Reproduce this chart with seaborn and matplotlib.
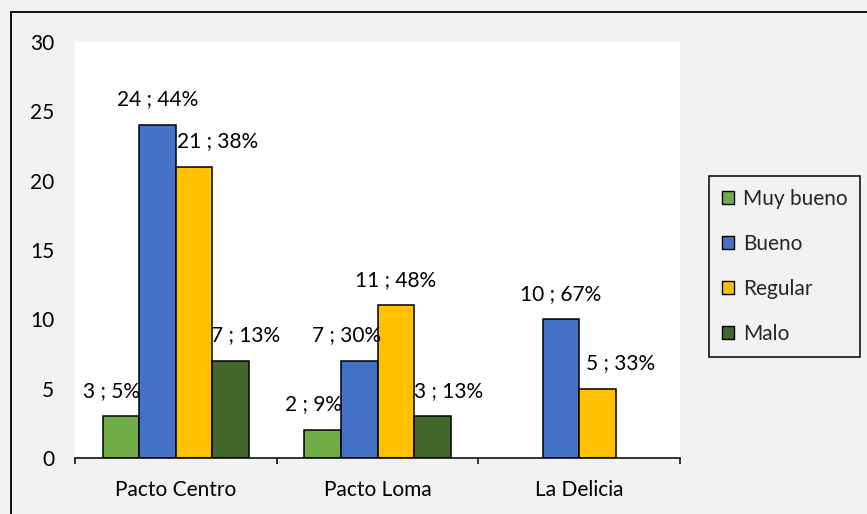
import matplotlib
matplotlib.use("Agg")
import matplotlib.pyplot as plt
from matplotlib.patches import Patch
from matplotlib.lines import Line2D
import seaborn as sns
import pandas as pd

# ---- data ----
categories = ["Pacto Centro", "Pacto Loma", "La Delicia"]
series = ["Muy bueno", "Bueno", "Regular", "Malo"]
muy_bueno = [3, 2, None]
bueno = [24, 7, 10]
regular = [21, 11, 5]
malo = [7, 3, None]
pct_muy_bueno = [5, 9, None]
pct_bueno = [44, 30, 67]
pct_regular = [38, 48, 33]
pct_malo = [13, 13, None]
y_ticks = [0, 5, 10, 15, 20, 25, 30]

# ---- style ----
colors = {"Muy bueno": "#70AD47", "Bueno": "#4472C4", "Regular": "#FFC000", "Malo": "#43682B"}
# label offsets (points) relative to bar top-center, per series per category
label_dx = {"Muy bueno": [-7, -6.5, 0], "Bueno": [0, -9, 0],
            "Regular": [17, 0, 17], "Malo": [11, 12, 0]}
label_dy = 18.5
FS = 15

sns.set_theme(style="white")
plt.rcParams['font.family'] = ['Lato', 'DejaVu Sans']

rows = []
vals = {"Muy bueno": muy_bueno, "Bueno": bueno, "Regular": regular, "Malo": malo}
pcts = {"Muy bueno": pct_muy_bueno, "Bueno": pct_bueno, "Regular": pct_regular, "Malo": pct_malo}
for s in series:
    for i, c in enumerate(categories):
        if vals[s][i] is not None:
            rows.append({"cat": c, "serie": s, "valor": vals[s][i]})
df = pd.DataFrame(rows)

fig = plt.figure(figsize=(8.67, 5.14), dpi=100, facecolor="#F2F2F2")
ax = fig.add_axes([75/867, 1-458/514, (680-75)/867, (458-42)/514])
ax.set_facecolor("white")

sns.barplot(data=df, x="cat", y="valor", hue="serie", order=categories, hue_order=series,
            palette=colors, width=0.724, edgecolor="black", linewidth=1.1, ax=ax,
            errorbar=None, legend=False, saturation=1)

ax.set_ylim(0, 30)
ax.set_xlim(-0.5, 2.5)
ax.set_yticks(y_ticks)
ax.set_xlabel("")
ax.set_ylabel("")
for sp in ["top", "right", "left"]:
    ax.spines[sp].set_visible(False)
ax.spines["bottom"].set_color("black")
ax.spines["bottom"].set_linewidth(1.1)

ax.set_xticks([-0.5, 0.5, 1.5, 2.5])
ax.set_xticklabels([])
ax.set_xticks([0, 1, 2], minor=True)
ax.set_xticklabels(categories, minor=True, fontsize=FS)
ax.tick_params(axis="x", which="major", bottom=True, length=4.5, width=1.1, color="black", direction="out")
ax.tick_params(axis="x", which="minor", bottom=False, length=0, pad=16, labelcolor="black")
ax.tick_params(axis="y", left=False, length=0, labelsize=FS, pad=15, labelcolor="black")

# data labels
for container, s in zip(ax.containers, series):
    present = [i for i in range(len(categories)) if vals[s][i] is not None]
    for bar, i in zip(container, present):
        xc = bar.get_x() + bar.get_width() / 2
        h = bar.get_height()
        ax.annotate(f"{vals[s][i]} ; {pcts[s][i]}%", (xc, h),
                    xytext=(label_dx[s][i], label_dy), textcoords="offset points",
                    ha="center", va="center", fontsize=FS, color="black")

# legend
handles = [Patch(facecolor=colors[s], edgecolor="black", linewidth=1.0, label=s) for s in series]
leg = fig.legend(handles=handles, loc="upper left", bbox_to_anchor=(709/867, 1-176/514),
                 frameon=True, fontsize=FS, handlelength=0.6, handleheight=0.6,
                 handletextpad=0.4, labelspacing=1.2, borderpad=0.62, borderaxespad=0)
leg.get_frame().set_facecolor("#F2F2F2")
leg.get_frame().set_edgecolor("black")
leg.get_frame().set_linewidth(1.1)
leg.get_frame().set_boxstyle("square", pad=0)
leg.get_frame().set_alpha(1)

# chart border (left and top visible)
fig.add_artist(Line2D([11/867, 11/867], [0, 1-12/514], transform=fig.transFigure, color="#000000", lw=1.3))
fig.add_artist(Line2D([11/867, 1], [1-12/514, 1-12/514], transform=fig.transFigure, color="#000000", lw=1.3))

fig.savefig("out.png", dpi=100, facecolor=fig.get_facecolor())
